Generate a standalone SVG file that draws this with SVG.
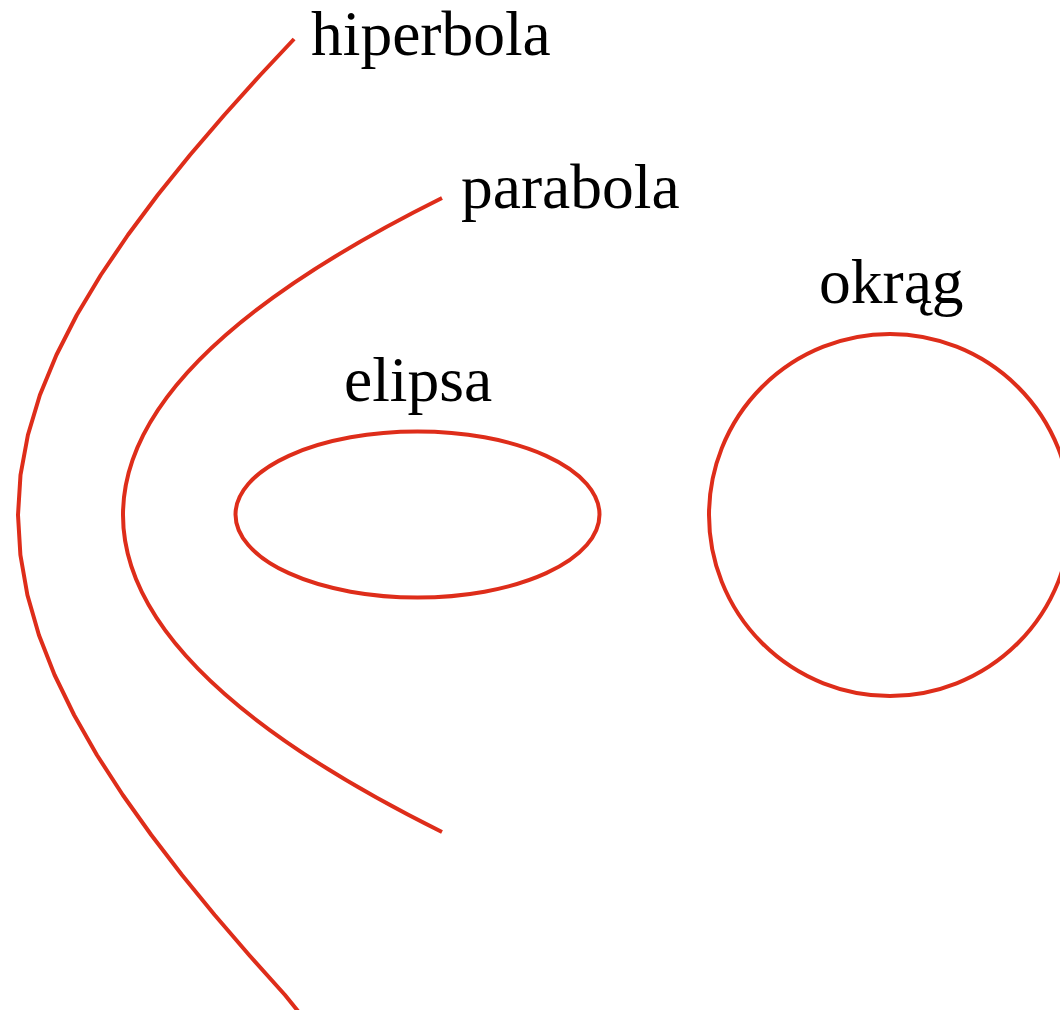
<svg xmlns="http://www.w3.org/2000/svg" width="1060" height="1010" viewBox="0 0 1060 1010">
<style>
.curve{fill:none;stroke:#de2d1a;stroke-width:4;stroke-linejoin:round;stroke-linecap:butt}
.lbl{font-family:"Liberation Serif","Times New Roman",serif;font-size:63.5px;fill:#000}
</style>
<rect width="1060" height="1010" fill="#fff"/>
<g id="hiperbola">
<polyline class="curve" points="294.1,39 260.3,75 224.3,115 190,155 157.7,195 127.9,235 100.8,275 76.8,315 56.4,355 39.9,395 27.9,435 20.5,475 18,515 20.4,555 27.4,595 38.9,635 54.6,675 74.1,715 96.9,755 122.8,795 151.3,835 182,875 214.7,915 249.1,955 285,995 298.7,1012"/>
<text class="lbl" x="311" y="55">hiperbola</text>
</g>
<g id="parabola">
<path class="curve" d="M442,198 Q-196,515 442,832"/>
<text class="lbl" x="461" y="208">parabola</text>
</g>
<g id="elipsa">
<ellipse class="curve" cx="417.5" cy="514.5" rx="182" ry="83"/>
<text class="lbl" x="344" y="401">elipsa</text>
</g>
<g id="okrag">
<circle class="curve" cx="890" cy="515" r="181"/>
<text class="lbl" x="819" y="303">okrąg</text>
</g>
<g id="connectors"></g>
</svg>
